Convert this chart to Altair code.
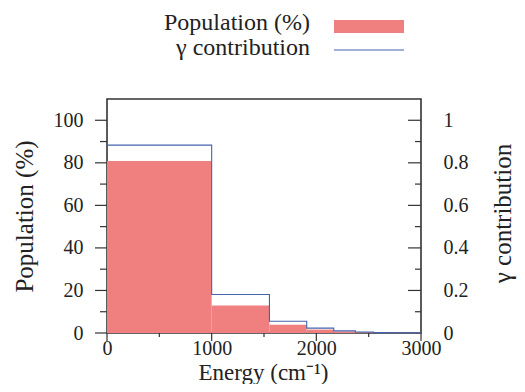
import altair as alt
import pandas as pd

# ---- data ----
bin_start = [0, 1000, 1552, 1908, 2166, 2373, 2545, 2700]
bin_end = [1000, 1552, 1908, 2166, 2373, 2545, 2700, 3000]
population = [80.8, 12.9, 3.9, 1.6, 0.7, 0.3, 0.15, 0.05]
gamma = [0.883, 0.181, 0.055, 0.023, 0.010, 0.005, 0.002, 0.001]

left_major = [0, 20, 40, 60, 80, 100]
left_minor = [10, 30, 50, 70, 90]
right_major = [0.2, 0.4, 0.6, 0.8, 1.0]
right_minor = [0.1, 0.3, 0.5, 0.7, 0.9]
x_major = [0, 1000, 2000, 3000]
x_minor = [500, 1500, 2500]
right_labels = [0, 0.2, 0.4, 0.6, 0.8, 1]

legend_labels = ["Population (%)", "\u03b3 contribution"]

FONT = "Liberation Serif"
RED = "#F08080"
BLUE = "#4462B0"
TXT = "#222"
W, H = 314, 234
TS = 25  # title size
LS = 20  # tick label size

bars_df = pd.DataFrame({"start": bin_start, "end": bin_end, "pop": population})
step_df = pd.DataFrame({"edge": bin_start + [bin_end[-1]],
                        "gamma": gamma + [gamma[-1]]})

xscale = alt.Scale(domain=[0, 3000], nice=False, zero=False)
yscale = alt.Scale(domain=[0, 110], nice=False)

bars = alt.Chart(bars_df).mark_rect(color=RED, stroke=None).encode(
    x=alt.X("start:Q", scale=xscale,
            axis=alt.Axis(values=x_major, format="d", ticks=False,
                          domain=False, grid=False,
                          labelFont=FONT, labelFontSize=LS, labelPadding=5,
                          labelColor=TXT, labelFlush=False,
                          title="Energy (cm\u207b\u00b9)", titleFont=FONT,
                          titleFontSize=23, titleFontWeight="normal",
                          titleColor=TXT, titleX=156, titleY=46,
                          titleBaseline="alphabetic", titleAlign="center")),
    x2="end:Q",
    y=alt.Y("pop:Q", scale=yscale,
            axis=alt.Axis(orient="left", values=left_major, ticks=False,
                          domain=False, grid=False, labelFont=FONT,
                          labelFontSize=LS, labelPadding=24, labelColor=TXT,
                          title="Population (%)", titleFont=FONT,
                          titleFontSize=TS, titleFontWeight="normal",
                          titleColor=TXT, titleAngle=270, titleX=-75,
                          titleY=117, titleBaseline="alphabetic",
                          titleAlign="center")),
    y2=alt.datum(0),
)

step = alt.Chart(step_df).mark_line(interpolate="step-after", color=BLUE,
                                    strokeWidth=1.1).encode(
    x=alt.X("edge:Q", scale=xscale),
    y=alt.Y("gamma:Q", scale=alt.Scale(domain=[0, 1.1], nice=False),
            axis=alt.Axis(orient="right", values=right_labels, format="~g",
                          ticks=False, domain=False, grid=False,
                          labelFont=FONT, labelFontSize=LS, labelPadding=22,
                          labelColor=TXT, labelAlign="left",
                          title="\u03b3 contribution", titleFont=FONT,
                          titleFontSize=TS, titleFontWeight="normal",
                          titleColor=TXT, titleAngle=270, titleX=89,
                          titleY=114, titleBaseline="alphabetic",
                          titleAlign="center")),
)


def yticks(vals, scale_dom, x0, x1):
    df = pd.DataFrame({"v": vals})
    return alt.Chart(df).mark_rule(color="#333", strokeWidth=1.2).encode(
        y=alt.Y("v:Q", scale=alt.Scale(domain=scale_dom, nice=False), axis=None),
        x=alt.value(x0), x2=alt.value(x1))


def xticks(vals, length):
    df = pd.DataFrame({"v": vals})
    return alt.Chart(df).mark_rule(color="#333", strokeWidth=1.2).encode(
        x=alt.X("v:Q", scale=xscale),
        y=alt.value(H), y2=alt.value(H + length))


tick_layers = [
    yticks(left_major, [0, 110], -12, 0),
    yticks(left_minor, [0, 110], -7, 0),
    yticks(right_major, [0, 1.1], W - 13, W),
    yticks(right_minor, [0, 1.1], W - 6, W),
    xticks(x_major, 8),
    xticks(x_minor, 4),
]

leg_df = pd.DataFrame({"label": legend_labels})
leg_text1 = alt.Chart(leg_df).transform_filter(
    alt.datum.label == legend_labels[0]).mark_text(
    font=FONT, fontSize=24, align="right", baseline="alphabetic",
    color=TXT).encode(text="label:N", x=alt.value(203), y=alt.value(-69))
leg_text2 = alt.Chart(leg_df).transform_filter(
    alt.datum.label == legend_labels[1]).mark_text(
    font=FONT, fontSize=24, align="right", baseline="alphabetic",
    color=TXT).encode(text="label:N", x=alt.value(203), y=alt.value(-44))
leg_rect = alt.Chart(leg_df).transform_filter(
    alt.datum.label == legend_labels[0]).mark_rect(color=RED).encode(
    x=alt.value(227), x2=alt.value(297), y=alt.value(-79), y2=alt.value(-66))
leg_line = alt.Chart(leg_df).transform_filter(
    alt.datum.label == legend_labels[1]).mark_rule(color=BLUE,
                                                   strokeWidth=1.1).encode(
    x=alt.value(227), x2=alt.value(297), y=alt.value(-49))

chart = alt.layer(
    bars, step, *tick_layers, leg_text1, leg_text2, leg_rect, leg_line
).resolve_scale(y="independent").properties(
    width=W, height=H,
    autosize=alt.AutoSizeParams(type="none"),
    padding={"left": 99, "top": 91, "right": 96, "bottom": 51},
).configure_view(stroke="#333", strokeWidth=1.6)

chart.save("out.html", embed_options={"renderer": "svg", "actions": False})
